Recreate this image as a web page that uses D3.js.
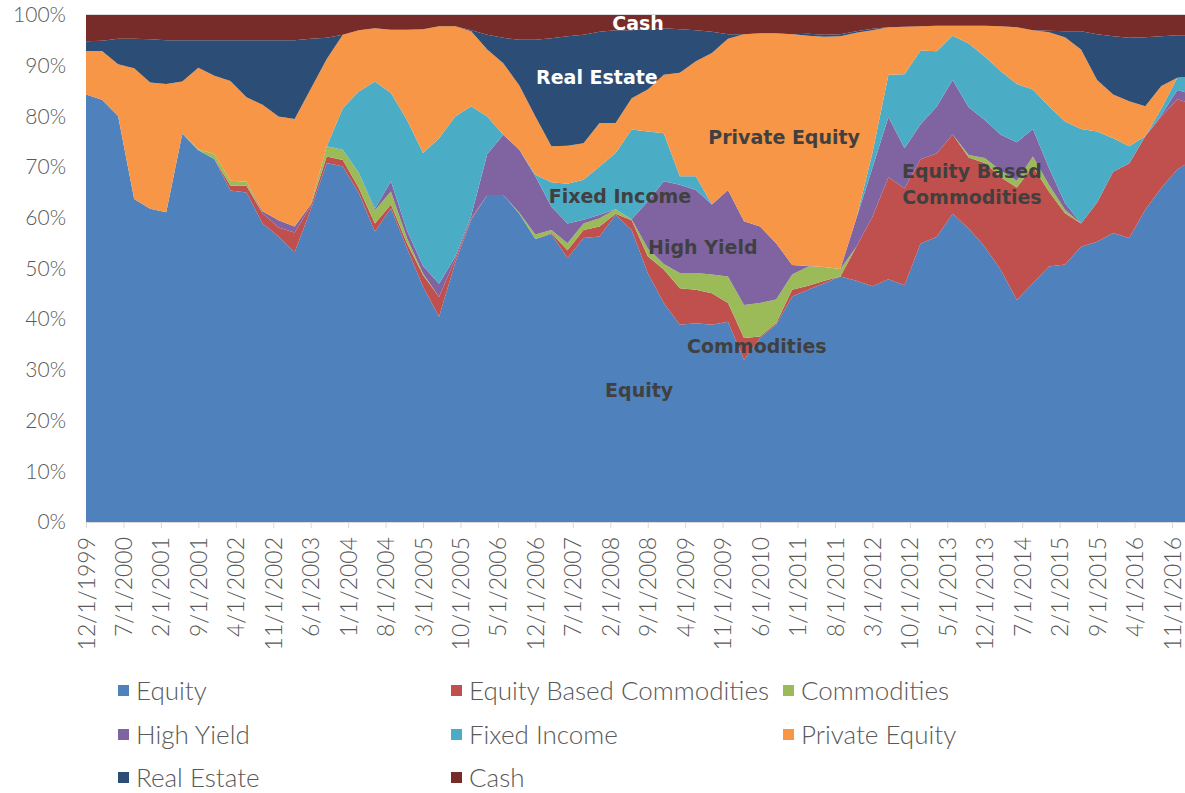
<!DOCTYPE html>
<html>
<head>
<meta charset="utf-8">
<script src="https://cdn.jsdelivr.net/npm/d3@7"></script>
<style>
  body { margin: 0; background: #fff; }
  svg { display: block; }
</style>
</head>
<body>
<svg id="chart" width="1185" height="793"></svg>
<script>
// quarterly allocation (%), first point 12/1/1999, one value per quarter
var equity = [84.3,83.3,80.1,63.7,61.8,61.1,76.6,73.3,71.6,65.4,65.0,58.9,56.3,53.2,61.6,70.8,70.1,64.9,57.3,61.9,
  54.0,46.4,40.5,51.1,59.6,64.5,64.5,60.8,55.8,56.8,52.0,56.0,56.3,60.6,57.6,49.1,43.2,38.9,39.2,38.9,
  39.5,32.0,36.3,38.9,44.5,45.8,47.1,48.4,47.6,46.5,47.9,46.7,54.8,56.0,60.7,57.9,54.3,49.7,43.8,47.1,
  50.4,50.8,54.3,55.3,57.0,56.0,61.6,65.9,69.6,71.4];
var equityCommodities = [0,0,0,0,0,0,0,0,0,0.9,1.3,2.0,1.8,3.9,0.7,1.3,1.3,1.0,1.6,0.7,
  1.0,2.3,3.9,0.7,0.3,0,0,0,0,0.2,1.6,1.6,2.0,0.2,1.9,3.3,6.6,7.2,6.6,6.2,
  3.7,4.3,0.3,0.3,1.3,0.8,0.5,0,6.7,13.7,20.1,19.1,16.6,16.4,15.6,14.0,16.5,18.3,22.2,23.0,
  14.8,10.1,4.6,7.7,12.1,14.7,14.5,14.1,13.8,10.9];
var commodities = [0,0,0,0,0,0,0,0.2,1.0,1.0,0.8,0,0,0,0,2.0,2.0,3.0,2.6,2.6,
  1.0,0.3,0,0,0,0,0,0.2,0.9,0.6,1.4,1.3,1.6,0.9,0.2,1.6,1.1,3.0,3.3,3.7,
  5.2,6.5,6.6,4.7,3.0,3.8,2.7,1.5,0,0,0,0,0,0,0,0.5,1.0,1.3,1.3,2.0,
  1.3,0.7,0,0,0,0,0,0,0,0];
var highYield = [0,0,0,0,0,0,0,0,0,0,0,0.4,1.4,1.2,0.3,0,0,0,0.3,2.0,
  1.5,1.5,2.6,0.5,0.5,8.1,11.9,12.4,11.5,4.6,3.9,0.7,0.7,0,0,9.2,16.3,17.4,16.4,13.8,
  17.1,16.5,15.1,11.1,1.9,0.1,0,0,5.6,9.6,11.9,7.9,6.9,9.2,10.7,9.4,7.5,7.1,7.6,5.4,
  3.3,1.3,0,0,0,0,0,0.3,1.8,2.0];
var fixedIncome = [0,0,0,0,0,0,0,0,0,0,0,0,0,0,0,0,8.2,16.0,25.1,17.4,
  21.8,22.3,28.7,27.7,21.6,7.4,0,0,0.3,4.8,7.8,7.9,9.5,11.1,17.7,13.8,9.5,1.7,2.7,0,
  0,0,0,0,0,0,0,0,0,3.0,8.3,14.6,14.5,10.9,8.7,12.6,12.5,12.5,11.5,7.8,
  12.2,16.1,18.6,14.0,6.6,3.4,0,1.2,2.4,3.7];
var privateEquity = [8.6,9.6,10.2,25.8,24.9,25.3,10.3,16.1,15.4,19.7,16.7,21.0,20.5,21.2,22.8,17.2,14.5,12.1,10.5,12.5,
  17.8,24.4,22.1,17.8,14.8,13.2,14.1,12.7,11.5,7.1,7.5,7.2,8.6,5.9,6.2,8.3,11.5,20.4,22.7,29.9,
  29.8,36.9,38.1,41.4,45.5,45.4,45.4,45.9,36.6,24.2,9.4,9.4,4.8,5.0,2.0,3.5,6.1,8.9,11.2,11.7,
  14.6,16.6,15.7,10.2,8.6,8.9,5.9,4.5,0,0];
var realEstate = [1.9,2.0,5.0,5.8,8.5,8.6,8.1,5.4,7.0,8.0,11.2,12.7,15.0,15.5,9.9,4.2,0,0,0,0,
  0,0,0,0,0.2,2.9,5.0,9.0,15.1,21.3,21.6,21.4,18.0,18.3,13.4,11.9,9.2,8.6,6.1,4.2,
  0.9,0,0,0,0,0.4,0.4,0.4,0.3,0.3,0,0,0,0,0,0,0,0,0,0,
  0.3,1.2,3.6,9.0,11.5,12.5,13.6,9.8,8.4,8.0];
var cash = [5.2,5.1,4.7,4.7,4.8,5.0,5.0,5.0,5.0,5.0,5.0,5.0,5.0,5.0,4.7,4.5,3.9,3.0,2.6,2.9,
  2.9,2.8,2.2,2.2,3.0,3.9,4.5,4.9,4.9,4.6,4.2,3.9,3.3,3.0,3.0,2.8,2.6,2.8,3.0,3.3,
  3.8,3.8,3.6,3.6,3.8,3.7,3.9,3.8,3.2,2.7,2.4,2.3,2.2,2.1,2.1,2.1,2.1,2.2,2.4,3.0,
  3.1,3.2,3.2,3.8,4.2,4.5,4.4,4.2,4.0,4.0];

var seriesNames = ["Equity", "Equity Based Commodities", "Commodities", "High Yield",
  "Fixed Income", "Private Equity", "Real Estate", "Cash"];
var seriesColors = ["#4f81bd", "#c0504d", "#9bbb59", "#8064a2", "#4bacc6", "#f79646", "#2c4d75", "#772c2a"];

// in-chart series labels: month offset from 12/1999, share of total
var labelNames = ["Cash", "Real Estate", "Private Equity", "Fixed Income", "High Yield", "Commodities", "Equity"];
var labelMonths = [103.2, 95.5, 130.5, 99.8, 115.3, 125.4, 103.4];
var labelShares = [0.984, 0.878, 0.759, 0.643, 0.542, 0.347, 0.26];
var labelColors = ["#fff", "#fff", "#404040", "#404040", "#404040", "#404040", "#404040"];

var svg = d3.select("#chart");
var plotLeft = 86, plotRight = 1185, plotTop = 15, plotBottom = 522;

var allSeries = [equity, equityCommodities, commodities, highYield, fixedIncome, privateEquity, realEstate, cash];
var table = equity.map(function (v, i) {
  var row = { month: i * 3 };
  seriesNames.forEach(function (name, k) { row[name] = allSeries[k][i]; });
  return row;
});

var x = d3.scaleLinear().domain([0, 203]).range([86, 1172]);
var y = d3.scaleLinear().domain([0, 1]).range([plotBottom, plotTop]);

var stack = d3.stack().keys(seriesNames).offset(d3.stackOffsetExpand);
var layers = stack(table);

svg.append("defs").append("clipPath").attr("id", "plot")
  .append("rect").attr("x", plotLeft).attr("y", plotTop - 1)
  .attr("width", plotRight - plotLeft).attr("height", plotBottom - plotTop + 2);

// gridlines
svg.append("g").selectAll("line").data(d3.range(0, 1.01, 0.1)).enter().append("line")
  .attr("x1", plotLeft).attr("x2", plotRight)
  .attr("y1", function (d) { return Math.round(y(d)) + 0.5; })
  .attr("y2", function (d) { return Math.round(y(d)) + 0.5; })
  .attr("stroke", "#d9d9d9");

var area = d3.area()
  .x(function (d) { return x(d.data.month); })
  .y0(function (d) { return y(d[0]); })
  .y1(function (d) { return y(d[1]); });

svg.append("g").attr("clip-path", "url(#plot)")
  .selectAll("path").data(layers).enter().append("path")
  .attr("d", area)
  .attr("fill", function (d, i) { return seriesColors[i]; });

svg.append("line").attr("x1", plotLeft).attr("x2", plotRight)
  .attr("y1", plotTop - 0.5).attr("y2", plotTop - 0.5)
  .attr("stroke", "#d9d9d9");

// y axis
var yAxis = svg.append("g").attr("transform", "translate(" + plotLeft + ",0)")
  .call(d3.axisLeft(y).tickValues(d3.range(0, 1.01, 0.1)).tickFormat(d3.format(".0%")).tickSize(0).tickPadding(20));
yAxis.select(".domain").remove();
yAxis.selectAll("text").attr("font-family", "Lato, sans-serif").attr("font-weight", 300)
  .attr("font-size", 21).attr("fill", "#595959");

// x axis, a label every 7 months
function monthLabel(m) {
  var d = new Date(1999, 11 + m, 1);
  return (d.getMonth() + 1) + "/1/" + d.getFullYear();
}
var xAxis = svg.append("g").attr("transform", "translate(0," + plotBottom + ")")
  .call(d3.axisBottom(x).tickValues(d3.range(0, 204, 7)).tickFormat(monthLabel).tickSize(6));
xAxis.select(".domain").attr("stroke", "#d9d9d9");
xAxis.selectAll(".tick line").attr("stroke", "#d9d9d9");
xAxis.selectAll("text")
  .attr("transform", "rotate(-90)")
  .attr("text-anchor", "end")
  .attr("x", -15).attr("y", 0).attr("dy", "0.35em")
  .attr("font-family", "Lato, sans-serif").attr("font-weight", 300)
  .attr("font-size", 23).attr("fill", "#595959");

// labels inside the chart
svg.append("g").selectAll("text").data(labelNames).enter().append("text")
  .attr("x", function (d, i) { return x(labelMonths[i]); })
  .attr("y", function (d, i) { return y(labelShares[i]); })
  .attr("dy", "0.35em")
  .attr("text-anchor", "middle")
  .attr("font-family", "'DejaVu Sans', sans-serif").attr("font-weight", "bold").attr("font-size", 19)
  .attr("fill", function (d, i) { return labelColors[i]; })
  .text(function (d) { return d; });

var ebc = svg.append("text")
  .attr("x", x(165.6)).attr("y", y(0.668))
  .attr("text-anchor", "middle")
  .attr("font-family", "'DejaVu Sans', sans-serif").attr("font-weight", "bold").attr("font-size", 19)
  .attr("fill", "#404040");
ebc.append("tspan").attr("x", x(165.6)).attr("dy", "-0.3em").text("Equity Based");
ebc.append("tspan").attr("x", x(165.6)).attr("dy", "1.4em").text("Commodities");

// legend
var legendX = [118, 451, 783];
var legendY = [691, 735, 778];
var legendOrder = [0, 1, 2, 3, 4, 5, 6, 7];
var legend = svg.append("g").selectAll("g").data(legendOrder).enter().append("g")
  .attr("transform", function (d, i) { return "translate(" + legendX[i % 3] + "," + legendY[Math.floor(i / 3)] + ")"; });
legend.append("rect").attr("x", 0).attr("y", -6).attr("width", 11).attr("height", 11)
  .attr("fill", function (d) { return seriesColors[d]; });
legend.append("text").attr("x", 18).attr("y", 0).attr("dy", "0.35em")
  .attr("font-family", "Lato, sans-serif").attr("font-weight", 300).attr("font-size", 26)
  .attr("fill", "#595959")
  .text(function (d) { return seriesNames[d]; });
</script>
</body>
</html>
